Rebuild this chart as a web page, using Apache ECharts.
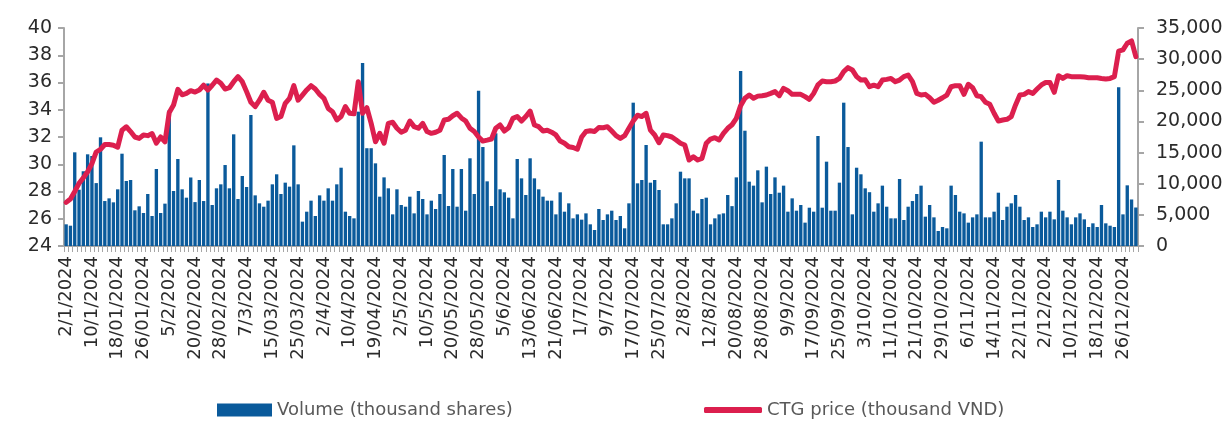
<!DOCTYPE html>
<html>
<head>
<meta charset="utf-8">
<script src="https://cdn.jsdelivr.net/npm/echarts@6/dist/echarts.min.js"></script>
<style>html,body{margin:0;padding:0;background:#fff;}#c{width:1229px;height:421px;}</style>
</head>
<body>
<div id="c"></div>
<script>
// Trading days of 2024 (HOSE): weekdays minus these market holidays
const holidays2024 = ['1/1','8/2','9/2','12/2','13/2','14/2','18/4','29/4','30/4','1/5','2/9','3/9'];

const volume = [
3480,3260,15040,9040,12000,14720,14450,10100,17450,7220,
7650,7010,9100,14820,10440,10600,5730,6370,5300,8350,
4820,12360,5300,6800,21800,8830,13970,9100,7760,11000,
7050,10600,7220,26100,6580,9260,9900,13000,9260,17930,
7550,11240,9470,21030,8130,6850,6310,7280,9900,11510,
8350,10170,9530,16160,9900,3910,5510,7280,4820,8130,
7280,9260,7280,9900,12570,5510,4820,4440,21570,29400,
15700,15700,13270,7920,11020,9260,5080,9100,6580,6310,
7920,5240,8830,7550,5080,7280,5940,8350,14610,6420,
12360,6310,12360,5670,14080,8350,24940,15890,10380,6420,
18090,9100,8620,7760,4440,13970,10860,8190,14080,10860,
9100,7920,7280,7280,5080,8620,5510,6850,4440,5080,
4230,5240,3480,2570,5940,4170,5080,5670,4170,4820,
2840,6850,23010,10060,10600,16220,10170,10600,8990,3480,
3480,4440,6850,11930,10860,10860,5670,5240,7550,7760,
3480,4440,5080,5240,8190,6400,11020,28100,18510,10330,
9690,12150,7010,12740,8350,11020,8560,9690,5510,7650,
5670,6580,3750,6150,5510,17660,6150,13540,5670,5670,
10170,23010,15890,5080,12570,11510,9260,8640,5510,6850,
9690,6310,4440,4440,10760,4170,6310,7220,8350,9690,
4710,6580,4600,2410,3050,2840,9690,8190,5510,5240,
3750,4600,5080,16750,4600,4600,5510,8560,4170,6310,
6850,8190,6310,4170,4600,3050,3480,5510,4600,5510,
4280,10600,5670,4600,3480,4600,5240,4280,3050,3640,
3050,6580,3640,3260,3050,25480,5080,9740,7470,6180
];

const price = [
27.2,27.45,28.0,28.6,29.0,29.45,30.05,30.9,31.1,31.45,
31.45,31.4,31.25,32.5,32.75,32.4,32.0,31.9,32.15,32.1,
32.25,31.55,32.0,31.65,33.8,34.35,35.5,35.1,35.2,35.4,
35.3,35.45,35.8,35.45,35.8,36.18,35.94,35.52,35.62,36.06,
36.43,36.06,35.33,34.55,34.23,34.7,35.28,34.7,34.55,33.37,
33.5,34.47,34.84,35.77,34.7,35.08,35.45,35.77,35.52,35.13,
34.84,34.1,33.86,33.25,33.5,34.23,33.74,33.7,36.06,33.74,
34.15,33.0,31.65,32.27,31.54,33.0,33.08,32.64,32.35,32.5,
33.17,32.76,32.64,33.0,32.4,32.27,32.35,32.5,33.25,33.3,
33.56,33.74,33.4,33.17,32.64,32.4,32.0,31.7,31.77,31.85,
32.64,32.88,32.44,32.68,33.37,33.5,33.17,33.5,33.9,32.88,
32.76,32.44,32.5,32.35,32.15,31.7,31.54,31.29,31.23,31.1,
32.0,32.4,32.46,32.4,32.7,32.68,32.76,32.44,32.1,31.9,
32.1,32.64,33.17,33.6,33.5,33.74,32.5,32.15,31.58,32.15,
32.1,32.0,31.78,31.54,31.41,30.31,30.55,30.31,30.43,31.54,
31.85,31.95,31.78,32.27,32.64,32.9,33.37,34.3,34.84,35.08,
34.84,35.0,35.03,35.08,35.2,35.33,35.03,35.57,35.4,35.13,
35.13,35.13,34.96,34.76,35.2,35.82,36.11,36.06,36.06,36.11,
36.3,36.8,37.09,36.92,36.43,36.18,36.2,35.69,35.8,35.69,
36.18,36.23,36.3,36.06,36.18,36.43,36.55,36.06,35.2,35.08,
35.13,34.88,34.55,34.7,34.88,35.08,35.69,35.77,35.77,35.13,
35.87,35.62,35.03,34.96,34.55,34.4,33.74,33.17,33.25,33.3,
33.5,34.35,35.08,35.13,35.33,35.2,35.52,35.82,36.0,36.0,
35.28,36.5,36.3,36.5,36.43,36.43,36.43,36.4,36.35,36.35,
36.35,36.3,36.26,36.3,36.43,38.3,38.39,38.88,39.05,37.9
];

const leftTicks = {min: 24, max: 40, interval: 2};
const rightTicks = {min: 0, max: 35000, interval: 5000};
const seriesNames = ['Volume (thousand shares)', 'CTG price (thousand VND)'];

// build category labels (Excel-style: day<=12 -> d/m/yyyy, else dd/mm/yyyy)
const categories = [];
(function(){
  const d = new Date(2024, 0, 1);
  while (d.getFullYear() === 2024) {
    const wd = d.getDay();
    const day = d.getDate(), mon = d.getMonth() + 1;
    if (wd !== 0 && wd !== 6 && holidays2024.indexOf(day + '/' + mon) < 0) {
      if (day <= 12) categories.push(day + '/' + mon + '/2024');
      else categories.push(String(day).padStart(2,'0') + '/' + String(mon).padStart(2,'0') + '/2024');
    }
    d.setDate(d.getDate() + 1);
  }
})();

const FONT = 'DejaVu Sans';
const axisGray = '#a6a6a6';
const chart = echarts.init(document.getElementById('c'), null, {renderer: 'canvas'});
chart.setOption({
  animation: false,
  textStyle: {fontFamily: FONT},
  grid: {left: 64, right: 91, top: 28, bottom: 175, containLabel: false},
  legend: [
    {data: [seriesNames[0]], left: 212, top: 396, itemWidth: 55, itemHeight: 13, icon: 'rect', itemGap: 12,
     textStyle: {fontSize: 18, color: '#595959', fontFamily: FONT}},
    {data: [seriesNames[1]], left: 699, top: 396, itemWidth: 58, itemHeight: 6, icon: 'roundRect',
     textStyle: {fontSize: 18, color: '#595959', fontFamily: FONT}}
  ],
  xAxis: {
    type: 'category', data: categories, boundaryGap: true,
    axisLine: {lineStyle: {color: axisGray, width: 2}},
    axisTick: {show: true, interval: 0, length: 6, lineStyle: {color: axisGray, width: 1}},
    axisLabel: {interval: 5, rotate: 90, fontSize: 18, color: '#2b2b2b', margin: 10, fontFamily: FONT}
  },
  yAxis: [
    {type: 'value', min: leftTicks.min, max: leftTicks.max, interval: leftTicks.interval,
     splitLine: {show: false},
     axisLine: {show: true, lineStyle: {color: axisGray, width: 2}},
     axisTick: {show: true, length: 6, lineStyle: {color: axisGray, width: 2}},
     axisLabel: {fontSize: 19, color: '#2b2b2b', margin: 12, fontFamily: FONT}},
    {type: 'value', min: rightTicks.min, max: rightTicks.max, interval: rightTicks.interval,
     position: 'right', splitLine: {show: false},
     axisLine: {show: true, lineStyle: {color: axisGray, width: 2}},
     axisTick: {show: true, length: 6, lineStyle: {color: axisGray, width: 2}},
     axisLabel: {fontSize: 19, color: '#2b2b2b', margin: 18, fontFamily: FONT,
       formatter: v => v.toLocaleString('en-US')}}
  ],
  series: [
    {name: seriesNames[0], type: 'bar', yAxisIndex: 1, data: volume,
     barCategoryGap: '22%', itemStyle: {color: '#0a5a9b'}, z: 2},
    {name: seriesNames[1], type: 'line', yAxisIndex: 0, data: price,
     symbol: 'none', smooth: false, z: 3,
     itemStyle: {color: '#dc1f4e'},
     lineStyle: {color: '#dc1f4e', width: 5, cap: 'round', join: 'round'}}
  ]
});
</script>
</body>
</html>
